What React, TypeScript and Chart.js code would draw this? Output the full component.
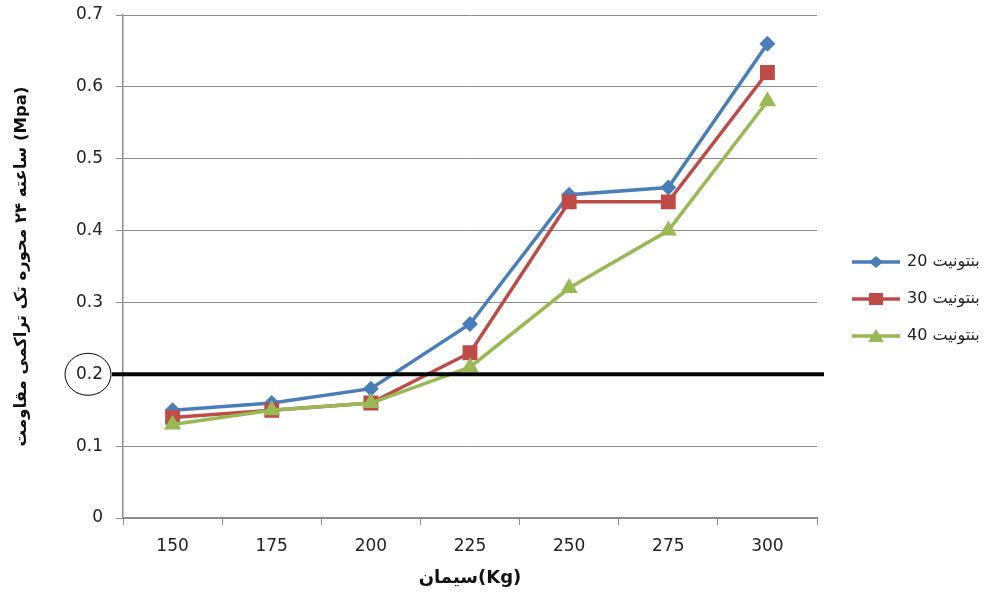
import React, { useEffect, useRef } from "react";
import { Chart, registerables } from "chart.js";

Chart.register(...registerables);

const categories = ["150", "175", "200", "225", "250", "275", "300"];
const series20 = [0.15, 0.16, 0.18, 0.27, 0.45, 0.46, 0.66];
const series30 = [0.14, 0.15, 0.16, 0.23, 0.44, 0.44, 0.62];
const series40 = [0.13, 0.15, 0.16, 0.21, 0.32, 0.4, 0.58];
const seriesLabels = ["بنتونیت 20", "بنتونیت 30", "بنتونیت 40"];
const thresholdValue = 0.2;
const yTitle = "ساعته ۲۴ محوره تک تراکمی مقاومت (Mpa)";
const xTitle = "سیمان(Kg)";

const BLUE = "#4A7EBB";
const RED = "#BE4B48";
const GREEN = "#98B954";
const GRID = "#8c8c8c";
const TICK_FONT = { family: "'DejaVu Sans', 'Liberation Sans', sans-serif", size: 17 };

const thresholdPlugin = {
  id: "threshold",
  afterDatasetsDraw(chart: any) {
    const { ctx, chartArea, scales } = chart;
    const y = scales.y.getPixelForValue(thresholdValue);
    ctx.save();
    ctx.strokeStyle = "#000";
    ctx.lineWidth = 4;
    ctx.beginPath();
    ctx.moveTo(chartArea.left - 11, y);
    ctx.lineTo(chartArea.right + 7, y);
    ctx.stroke();
    // circle around the 0.2 tick label
    ctx.lineWidth = 1;
    ctx.beginPath();
    ctx.ellipse(chartArea.left - 35, y, 23, 21, 0, 0, Math.PI * 2);
    ctx.stroke();
    ctx.restore();
  },
};

const legendPlugin = {
  id: "customLegend",
  afterDraw(chart: any) {
    const { ctx } = chart;
    const x0 = 852;
    const x1 = 900;
    const ys = [262, 299, 336];
    chart.data.datasets.forEach((ds: any, i: number) => {
      const y = ys[i];
      ctx.save();
      ctx.strokeStyle = ds.borderColor;
      ctx.lineWidth = 3.5;
      ctx.beginPath();
      ctx.moveTo(x0, y);
      ctx.lineTo(x1, y);
      ctx.stroke();
      ctx.fillStyle = ds.pointBackgroundColor;
      ctx.beginPath();
      const cx = (x0 + x1) / 2;
      if (ds.pointStyle === "rectRot") {
        ctx.moveTo(cx - 7, y);
        ctx.lineTo(cx, y - 6);
        ctx.lineTo(cx + 7, y);
        ctx.lineTo(cx, y + 6);
        ctx.closePath();
      } else if (ds.pointStyle === "rect") {
        ctx.rect(cx - 7, y - 6, 14, 12);
      } else {
        ctx.moveTo(cx - 8, y + 6);
        ctx.lineTo(cx, y - 7);
        ctx.lineTo(cx + 8, y + 6);
        ctx.closePath();
      }
      ctx.fill();
      ctx.fillStyle = "#222";
      ctx.font = "16px 'DejaVu Sans', sans-serif";
      ctx.textBaseline = "middle";
      ctx.textAlign = "left";
      ctx.fillText(ds.label, 907, y);
      ctx.restore();
    });
  },
};

export default function App() {
  const ref = useRef<HTMLCanvasElement | null>(null);
  useEffect(() => {
    document.body.style.margin = "0";
    const canvas = ref.current;
    if (!canvas) return;
    const mk = (label: string, data: number[], color: string, style: string, radius: number, order: number) => ({
      label,
      data,
      borderColor: color,
      backgroundColor: color,
      pointBackgroundColor: color,
      pointBorderColor: color,
      pointBorderWidth: 0,
      pointStyle: style,
      pointRadius: radius,
      borderWidth: 3.5,
      tension: 0,
      order,
    });
    const chart = new Chart(canvas, {
      type: "line",
      data: {
        labels: categories,
        datasets: [
          mk(seriesLabels[0], series20, BLUE, "rectRot", 8, 3),
          mk(seriesLabels[1], series30, RED, "rect", 10.5, 2),
          mk(seriesLabels[2], series40, GREEN, "triangle", 10, 1),
        ],
      },
      options: {
        responsive: false,
        animation: false,
        layout: { padding: { left: 0, right: 183, top: 15, bottom: 0 } },
        plugins: {
          legend: { display: false },
          tooltip: { enabled: false },
        },
        scales: {
          x: {
            offset: true,
            grid: {
              offset: true,
              drawOnChartArea: false,
              drawTicks: true,
              tickLength: 7,
              color: GRID,
            },
            border: { color: GRID, width: 1.5 },
            ticks: { color: "#222", font: TICK_FONT, padding: 11 },
            title: {
              display: true,
              text: xTitle,
              color: "#111",
              font: { family: "'DejaVu Sans', sans-serif", size: 18, weight: "bold" },
              padding: { top: 0, bottom: 3 },
            },
            afterFit: (s: any) => {
              s.height = 74;
            },
          },
          y: {
            min: 0,
            max: 0.7,
            grid: { color: GRID, tickLength: 7, drawTicks: true },
            border: { color: GRID, width: 1.5 },
            ticks: {
              stepSize: 0.1,
              color: "#222",
              font: TICK_FONT,
              padding: 13,
              callback: (v: any) => (Number(v) === 0 ? "0" : Number(v).toFixed(1)),
            },
            title: {
              display: true,
              text: yTitle,
              color: "#111",
              font: { family: "'DejaVu Sans', sans-serif", size: 16.5, weight: "bold" },
              padding: { top: 12, bottom: 0 },
            },
            afterFit: (s: any) => {
              s.width = 123;
              s.paddingTop = 5;
              s.paddingBottom = 5;
            },
          },
        },
      },
      plugins: [thresholdPlugin, legendPlugin],
    } as any);
    return () => chart.destroy();
  }, []);
  return (
    <div style={{ width: 1000, height: 592 }}>
      <canvas ref={ref} width={1000} height={592} style={{ display: "block" }} />
    </div>
  );
}
